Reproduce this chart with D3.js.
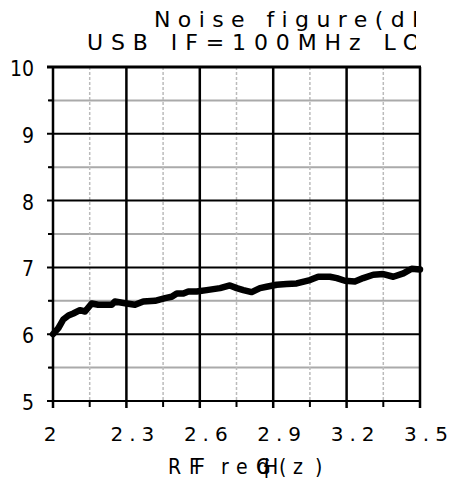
<!DOCTYPE html>
<html><head><meta charset="utf-8">
<script src="https://cdn.jsdelivr.net/npm/d3@7"></script>
<style>
html,body{margin:0;padding:0;background:#fff;}
text{font-family:"DejaVu Sans",sans-serif;fill:#000;}
.cond{font-family:"DejaVu Sans Condensed","DejaVu Sans",sans-serif;}
</style></head>
<body><svg id="c" width="454" height="491"></svg>
<script>
const freqGHz = [2.0,2.022,2.042,2.063,2.083,2.110,2.131,2.158,2.185,2.240,2.253,2.301,2.335,2.369,2.417,2.458,2.485,2.506,2.533,2.553,2.587,2.628,2.683,2.723,2.751,2.778,2.812,2.846,2.873,2.914,2.955,2.996,3.050,3.084,3.132,3.160,3.193,3.234,3.268,3.309,3.350,3.391,3.432,3.466,3.5];
const noiseFigure = [6.0,6.09,6.22,6.28,6.31,6.36,6.34,6.46,6.44,6.44,6.49,6.46,6.44,6.49,6.50,6.54,6.56,6.61,6.61,6.64,6.64,6.66,6.69,6.73,6.69,6.66,6.63,6.69,6.71,6.74,6.75,6.76,6.81,6.86,6.86,6.84,6.80,6.79,6.84,6.89,6.90,6.86,6.91,6.98,6.97];
const xTicks = [2,2.3,2.6,2.9,3.2,3.5];
const xTickLabels = ["2","2.3","2.6","2.9","3.2","3.5"];
const xMinor = [2.15,2.45,2.75,3.05,3.35];
const yTicks = [5,6,7,8,9,10];
const yMinor = [5.5,6.5,7.5,8.5,9.5];
const titleLines = ["Noise figure(dB)","USB IF=100MHz LO"];

const svg = d3.select("#c");
const L=53,R=420,T=67,B=401;
const x = d3.scaleLinear().domain([2,3.5]).range([L,R]);
const y = d3.scaleLinear().domain([5,10]).range([B,T]);

// minor grid
svg.append("g").selectAll("line").data(yMinor).join("line")
 .attr("x1",L-4).attr("x2",R).attr("y1",d=>y(d)).attr("y2",d=>y(d))
 .attr("stroke","#aaa").attr("stroke-width",2);
svg.append("g").selectAll("line").data(xMinor).join("line")
 .attr("x1",d=>x(d)).attr("x2",d=>x(d)).attr("y1",T).attr("y2",B)
 .attr("stroke","#bbb").attr("stroke-width",1.5).attr("stroke-dasharray","3,2");
// minor ticks
svg.append("g").selectAll("line").data(xMinor).join("line")
 .attr("x1",d=>x(d)).attr("x2",d=>x(d)).attr("y1",B).attr("y2",B+6)
 .attr("stroke","#000").attr("stroke-width",2);
svg.append("g").selectAll("line").data(yMinor).join("line")
 .attr("x1",L-5).attr("x2",L).attr("y1",d=>y(d)).attr("y2",d=>y(d))
 .attr("stroke","#000").attr("stroke-width",2);
// major grid
svg.append("g").selectAll("line").data(yTicks).join("line")
 .attr("x1",L-6).attr("x2",R+1).attr("y1",d=>y(d)).attr("y2",d=>y(d))
 .attr("stroke","#000").attr("stroke-width",d=>d===10?3:2);
svg.append("g").selectAll("line").data(xTicks).join("line")
 .attr("x1",d=>x(d)).attr("x2",d=>x(d)).attr("y1",T).attr("y2",B+7)
 .attr("stroke","#000").attr("stroke-width",2.5);

// line
svg.append("path").datum(freqGHz.map((f,i)=>[f,noiseFigure[i]]))
 .attr("fill","none").attr("stroke","#000").attr("stroke-width",6.5)
 .attr("stroke-linejoin","round").attr("stroke-linecap","round")
 .attr("d",d3.line().x(d=>x(d[0])).y(d=>y(d[1])));

// y labels
svg.append("g").selectAll("text").data(yTicks).join("text").attr("class","cond")
 .attr("x",34).attr("y",d=>y(d)+9).attr("text-anchor","end")
 .attr("font-size",21).text(d=>d);
// x labels
svg.append("g").selectAll("text").data(xTicks).join("text")
 .attr("x",(d,i)=>x(d)+(xTickLabels[i].length>1?9:0)).attr("y",441)
 .attr("text-anchor","middle").attr("font-size",20).attr("letter-spacing",6)
 .text((d,i)=>xTickLabels[i]);

// title (clipped)
svg.append("clipPath").attr("id","tc").append("rect").attr("x",0).attr("y",0).attr("width",416).attr("height",60);
const tg = svg.append("g").attr("clip-path","url(#tc)");
tg.append("text").attr("x",154).attr("y",27).attr("font-size",22).attr("letter-spacing",7.4).text(titleLines[0]);
tg.append("text").attr("x",87).attr("y",50).attr("font-size",22).attr("letter-spacing",7.9).text(titleLines[1]);

// x axis title (overlapping glyphs as in source)
const axChars = [["R",168],["F",189],["F",194],["r",221],["e",236],["q",257],["G",256],["H",264],["(",279],["z",293],[")",315]];
const at = svg.append("text").attr("class","cond").attr("y",474).attr("font-size",21);
axChars.forEach(c=>at.append("tspan").attr("x",c[1]).text(c[0]));
</script></body></html>
